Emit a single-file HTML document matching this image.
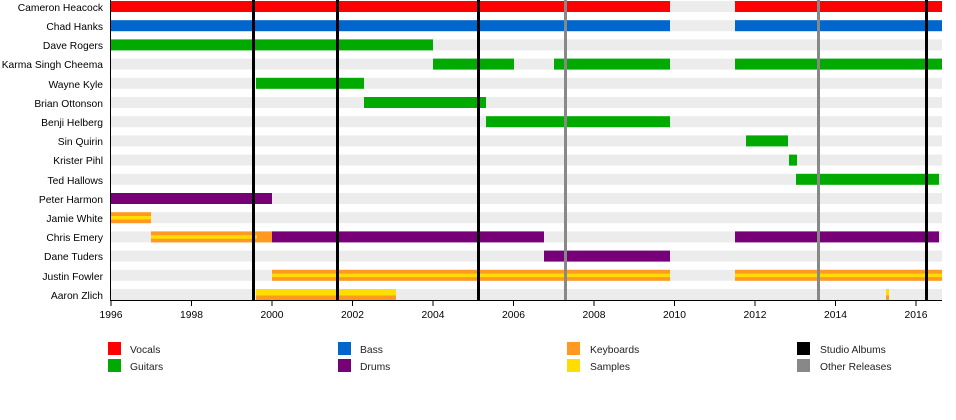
<!DOCTYPE html><html><head><style>body{margin:0;background:#fff}svg{display:block;font-family:"Liberation Sans",sans-serif}</style></head><body>
<svg width="956" height="420" xmlns="http://www.w3.org/2000/svg">
<g fill="#ececec">
<rect x="111" y="1" width="831" height="11"/><rect x="111" y="20.2" width="831" height="11"/><rect x="111" y="39.4" width="831" height="11"/><rect x="111" y="58.6" width="831" height="11"/><rect x="111" y="77.8" width="831" height="11"/><rect x="111" y="97" width="831" height="11"/><rect x="111" y="116.2" width="831" height="11"/><rect x="111" y="135.4" width="831" height="11"/><rect x="111" y="154.6" width="831" height="11"/><rect x="111" y="173.8" width="831" height="11"/><rect x="111" y="193" width="831" height="11"/><rect x="111" y="212.2" width="831" height="11"/><rect x="111" y="231.4" width="831" height="11"/><rect x="111" y="250.6" width="831" height="11"/><rect x="111" y="269.8" width="831" height="11"/><rect x="111" y="289" width="831" height="11"/>
</g>
<g font-size="10.3" fill="#000" text-anchor="end">
<text x="103" y="11">Cameron Heacock</text><text x="103" y="30">Chad Hanks</text><text x="103" y="49">Dave Rogers</text><text x="103" y="68">Karma Singh Cheema</text><text x="103" y="88">Wayne Kyle</text><text x="103" y="107">Brian Ottonson</text><text x="103" y="126">Benji Helberg</text><text x="103" y="145">Sin Quirin</text><text x="103" y="164">Krister Pihl</text><text x="103" y="184">Ted Hallows</text><text x="103" y="203">Peter Harmon</text><text x="103" y="222">Jamie White</text><text x="103" y="241">Chris Emery</text><text x="103" y="260">Dane Tuders</text><text x="103" y="280">Justin Fowler</text><text x="103" y="299">Aaron Zlich</text>
</g>
<g fill="#ff0000"><rect x="111" y="1" width="559" height="11"/><rect x="735" y="1" width="207" height="11"/></g>
<g fill="#0066cc"><rect x="111" y="20.2" width="559" height="11"/><rect x="735" y="20.2" width="207" height="11"/></g>
<g fill="#00aa00">
<rect x="111" y="39.4" width="322" height="11"/>
<rect x="433" y="58.6" width="81" height="11"/><rect x="554" y="58.6" width="116" height="11"/><rect x="735" y="58.6" width="207" height="11"/>
<rect x="256" y="77.8" width="108" height="11"/>
<rect x="364" y="97" width="122" height="11"/>
<rect x="486" y="116.2" width="184" height="11"/>
<rect x="746" y="135.4" width="42" height="11"/>
<rect x="789" y="154.6" width="8" height="11"/>
<rect x="796" y="173.8" width="143" height="11"/>
</g>
<g fill="#770077">
<rect x="111" y="193" width="161" height="11"/>
<rect x="272" y="231.4" width="272" height="11"/><rect x="735" y="231.4" width="204" height="11"/>
<rect x="544" y="250.6" width="126" height="11"/>
</g>
<g fill="#ff9922">
<rect x="111" y="212.2" width="40" height="11"/>
<rect x="151" y="231.4" width="121" height="11"/>
<rect x="272" y="269.8" width="398" height="11"/><rect x="735" y="269.8" width="207" height="11"/>
<rect x="256" y="289" width="140" height="11"/><rect x="886" y="289" width="3" height="11"/>
</g>
<g fill="#ffdd00">
<rect x="111" y="216" width="40" height="3.5"/>
<rect x="151" y="235.2" width="106" height="3.5"/>
<rect x="272" y="273.6" width="398" height="3.5"/><rect x="735" y="273.6" width="207" height="3.5"/>
<rect x="256" y="289" width="140" height="6.5"/><rect x="886" y="289" width="3" height="6.5"/>
</g>
<g fill="#000"><rect x="252" y="0" width="3" height="300"/><rect x="336" y="0" width="3" height="300"/><rect x="477" y="0" width="3" height="300"/><rect x="925" y="0" width="3" height="300"/></g>
<g fill="#888"><rect x="564" y="0" width="3" height="300"/><rect x="817" y="0" width="3" height="300"/></g>
<g stroke="#000" stroke-width="1">
<line x1="110.5" y1="0" x2="110.5" y2="300.5"/><line x1="110" y1="300.5" x2="942" y2="300.5"/>
<line x1="111" y1="300" x2="111" y2="306"/><line x1="191.5" y1="300" x2="191.5" y2="306"/><line x1="272" y1="300" x2="272" y2="306"/><line x1="352.5" y1="300" x2="352.5" y2="306"/><line x1="433" y1="300" x2="433" y2="306"/><line x1="513.5" y1="300" x2="513.5" y2="306"/><line x1="594" y1="300" x2="594" y2="306"/><line x1="674.5" y1="300" x2="674.5" y2="306"/><line x1="755" y1="300" x2="755" y2="306"/><line x1="835.5" y1="300" x2="835.5" y2="306"/><line x1="916" y1="300" x2="916" y2="306"/>
</g>
<g font-size="10.3" text-anchor="middle"><text x="111" y="318">1996</text><text x="191.5" y="318">1998</text><text x="272" y="318">2000</text><text x="352.5" y="318">2002</text><text x="433" y="318">2004</text><text x="513.5" y="318">2006</text><text x="594" y="318">2008</text><text x="674.5" y="318">2010</text><text x="755" y="318">2012</text><text x="835.5" y="318">2014</text><text x="916" y="318">2016</text></g>
<rect x="108" y="342" width="13" height="13" fill="#ff0000"/><rect x="108" y="359" width="13" height="13" fill="#00aa00"/>
<rect x="338" y="342" width="13" height="13" fill="#0066cc"/><rect x="338" y="359" width="13" height="13" fill="#770077"/>
<rect x="567" y="342" width="13" height="13" fill="#ff9922"/><rect x="567" y="359" width="13" height="13" fill="#ffdd00"/>
<rect x="797" y="342" width="13" height="13" fill="#000"/><rect x="797" y="359" width="13" height="13" fill="#888"/>
<g font-size="10.3" fill="#222"><text x="130" y="353">Vocals</text><text x="130" y="370">Guitars</text><text x="360" y="353">Bass</text><text x="360" y="370">Drums</text><text x="590" y="353">Keyboards</text><text x="590" y="370">Samples</text><text x="820" y="353">Studio Albums</text><text x="820" y="370">Other Releases</text></g>
</svg></body></html>
